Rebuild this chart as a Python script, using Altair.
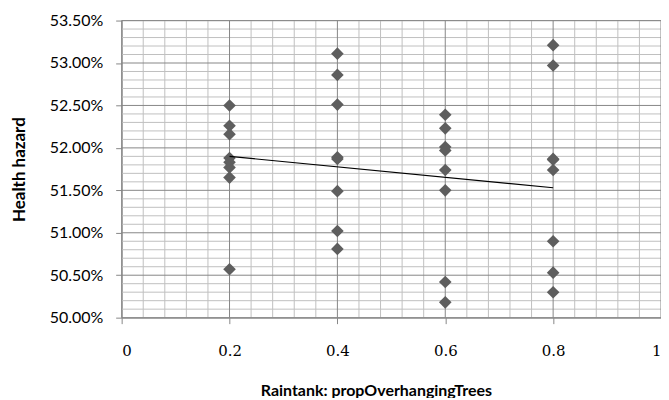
import altair as alt
import pandas as pd

# Data
x_vals = [0.2]*8 + [0.4]*8 + [0.6]*8 + [0.8]*8
hazard = [
    0.5250, 0.5226, 0.5216, 0.5188, 0.5183, 0.5177, 0.5165, 0.5057,
    0.5311, 0.5286, 0.5251, 0.5189, 0.5187, 0.5149, 0.5102, 0.5081,
    0.5239, 0.5223, 0.5201, 0.5197, 0.5174, 0.5150, 0.5042, 0.5018,
    0.5321, 0.5297, 0.5187, 0.5186, 0.5174, 0.5090, 0.5053, 0.5030,
]
trend_x = [0.2, 0.8]
trend_y = [0.5190, 0.5153]

major_x = [0, 0.2, 0.4, 0.6, 0.8, 1.0]
major_y = [0.500, 0.505, 0.510, 0.515, 0.520, 0.525, 0.530, 0.535]
minor_x = [round(i * 0.04, 2) for i in range(26) if i % 5 != 0]
minor_y = [round(0.5 + i * 0.001, 3) for i in range(36) if i % 5 != 0]

pts = pd.DataFrame({"x": x_vals, "y": hazard})
trend = pd.DataFrame({"x": trend_x, "y": trend_y})
gx = pd.DataFrame({"x": minor_x})
gy = pd.DataFrame({"y": minor_y})
mx = pd.DataFrame({"x": major_x})
my = pd.DataFrame({"y": major_y})

xscale = alt.Scale(domain=[0, 1], nice=False, zero=False)
yscale = alt.Scale(domain=[0.50, 0.535], nice=False, zero=False)

minor_col = "#c0c0c0"
major_col = "#878787"

vminor = alt.Chart(gx).mark_rule(color=minor_col, strokeWidth=1).encode(
    x=alt.X("x:Q", scale=xscale))
hminor = alt.Chart(gy).mark_rule(color=minor_col, strokeWidth=1).encode(
    y=alt.Y("y:Q", scale=yscale))
vmajor = alt.Chart(mx).mark_rule(color=major_col, strokeWidth=1).encode(
    x=alt.X("x:Q", scale=xscale))
hmajor = alt.Chart(my).mark_rule(color=major_col, strokeWidth=1).encode(
    y=alt.Y("y:Q", scale=yscale))

points = alt.Chart(pts).mark_point(
    shape="diamond", filled=True, size=160, color="#5e5e5e", opacity=1
).encode(
    x=alt.X("x:Q", scale=xscale,
            axis=alt.Axis(title="Raintank: propOverhangingTrees", values=major_x,
                          format="~g", grid=False, domainColor=major_col,
                          tickColor=major_col, tickSize=6, labelPadding=20,
                          labelFont="DejaVu Serif", labelFontSize=15,
                          labelColor="#000", titleFont="Lato", titleFontSize=16,
                          titleFontWeight="bold", titleColor="#000",
                          titleX=255, titleY=65, titleBaseline="top",
                          titleAlign="center")),
    y=alt.Y("y:Q", scale=yscale,
            axis=alt.Axis(title="Health hazard", values=major_y, format=".2%",
                          grid=False, domainColor=major_col, tickColor=major_col,
                          tickSize=6, labelPadding=13, labelFont="Lato",
                          labelFontSize=16, labelColor="#000", titleFont="Lato",
                          titleFontSize=17, titleFontWeight="bold",
                          titleColor="#000", titlePadding=21)),
)

trend_line = alt.Chart(trend).mark_line(color="#000000", strokeWidth=1.2).encode(
    x=alt.X("x:Q", scale=xscale), y=alt.Y("y:Q", scale=yscale))

chart = alt.layer(vminor, hminor, vmajor, hmajor, points, trend_line).properties(
    width=541, height=298,
    padding={"left": 114, "top": 12, "right": 0, "bottom": 80},
    autosize="none",
).configure_view(stroke=None).configure(background="white")

chart.save("out.html", embed_options={"renderer": "svg", "actions": False})
